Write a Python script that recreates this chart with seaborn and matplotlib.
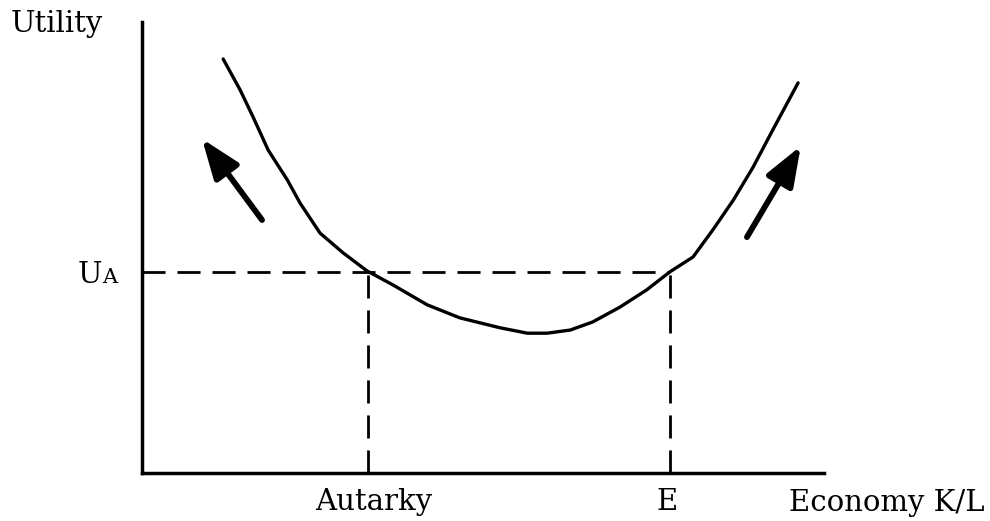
import numpy as np
import matplotlib
matplotlib.use("Agg")
import matplotlib.pyplot as plt
import pandas as pd
import seaborn as sns

# curve (K/L vs utility, arbitrary units 0-10)
kl = [1.19, 1.44, 1.63, 1.85, 2.13, 2.32, 2.61, 2.95, 3.30, 3.68, 4.18, 4.66, 5.25, 5.65,
      5.94, 6.28, 6.61, 7.01, 7.40, 7.74, 8.08, 8.37, 8.67, 8.96, 9.25, 9.62]
utility = [9.18, 8.49, 7.89, 7.16, 6.50, 5.98, 5.32, 4.88, 4.48, 4.17, 3.73, 3.44, 3.22, 3.10,
           3.10, 3.17, 3.35, 3.68, 4.06, 4.46, 4.79, 5.39, 6.05, 6.78, 7.61, 8.65]

u_a = 4.46
autarky_x = 3.31
e_x = 7.74

# arrows: (tail_x, tail_y, head_x, head_y)
arrow_left = (1.76, 5.61, 0.88, 7.41)
arrow_right = (8.87, 5.23, 9.66, 7.25)

sns.set_style("white")
plt.rcParams['font.family'] = ['DejaVu Serif']

df = pd.DataFrame({'kl': kl, 'utility': utility})

fig = plt.figure(figsize=(9.9, 5.21), dpi=100)
ax = fig.add_axes([142/990, 48/521, 682/990, 451/521])
sns.lineplot(data=df, x='kl', y='utility', ax=ax, color='black', linewidth=2.4, sort=False,
             solid_joinstyle='round', solid_capstyle='round')

dash = (0, (8.3, 4.3))
ax.plot([0, e_x], [u_a, u_a], color='black', linewidth=2, linestyle=dash)
ax.plot([autarky_x, autarky_x], [0, u_a], color='black', linewidth=2, linestyle=dash)
ax.plot([e_x, e_x], [0, u_a], color='black', linewidth=2, linestyle=dash)

for tx, ty, hx, hy in [arrow_left, arrow_right]:
    ax.annotate('', xy=(hx, hy), xytext=(tx, ty),
                arrowprops=dict(arrowstyle='-|>,head_length=2.4,head_width=0.9', color='black',
                                lw=4.2, shrinkA=0, shrinkB=0))

ax.set_xlim(0, 10)
ax.set_ylim(0, 10)
ax.set_xticks([])
ax.set_yticks([])
ax.set_xlabel('')
ax.set_ylabel('')
for s in ['top', 'right']:
    ax.spines[s].set_visible(False)
for s in ['left', 'bottom']:
    ax.spines[s].set_linewidth(2.5)
    ax.spines[s].set_color('black')

fs = 21
fig.text(11/990, 1 - 32/521, 'Utility', fontsize=fs, va='baseline', ha='left', color='black')
fig.text(789/990, 1 - 511/521, 'Economy K/L', fontsize=fs, va='baseline', ha='left', color='black')
ax.text(3.40, -0.83, 'Autarky', fontsize=fs, va='baseline', ha='center', color='black')
ax.text(7.70, -0.83, 'E', fontsize=fs, va='baseline', ha='center', color='black')
ax.text(-0.58, 4.40, 'U', fontsize=fs, va='center', ha='right', color='black')
ax.text(-0.58, 4.33, 'A', fontsize=15, va='center', ha='left', color='black')

plt.savefig('out.png', dpi=100)
